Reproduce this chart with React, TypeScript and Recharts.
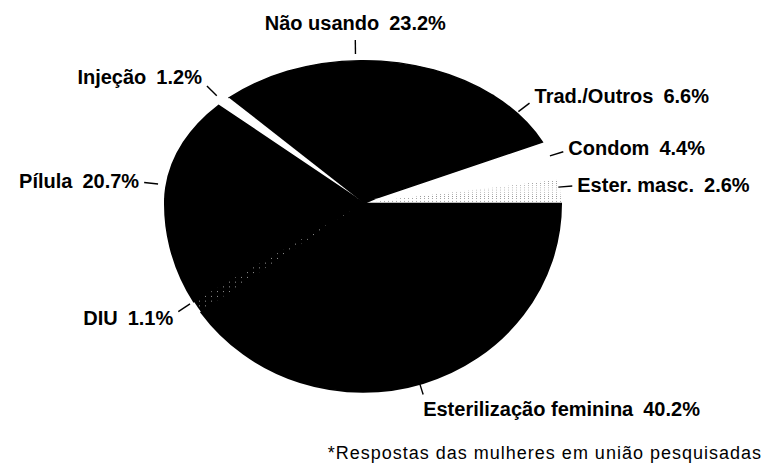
import { PieChart, Pie, Cell } from "recharts"

// methods, counter-clockwise from 3 o'clock
const methods = [
	"Ester. masc.",
	"Condom",
	"Trad./Outros",
	"Não usando",
	"Injeção",
	"Pílula",
	"DIU",
	"Esterilização feminina",
]
const shares = [2.6, 4.4, 6.6, 23.2, 1.2, 20.7, 1.1, 40.2]
const footnote = "*Respostas das mulheres em união pesquisadas"

const sliceFills = [
	"url(#dotsLight)",
	"#ffffff",
	"#000000",
	"#000000",
	"#ffffff",
	"#000000",
	"url(#specks)",
	"#000000",
]

const data = methods.map((name, i) => ({ name, value: shares[i] }))

const W = 771
const H = 469
const CX = 358
const CY = 199
const R = 198
// the scanned pie is seen a little in perspective: top half flatter than bottom
const TOP_K = 0.717
const BOTTOM_K = 0.95
const FONT = "'Liberation Sans', Arial, Helvetica, sans-serif"

function edgePoint(angle: number) {
	const rad = (angle * Math.PI) / 180
	const c = Math.cos(rad)
	const s = Math.sin(rad)
	const k = s > 0 ? TOP_K : BOTTOM_K
	return { c, s, x: CX + R * c, y: CY - R * s * k }
}

function renderLabel(props: any) {
	const { midAngle, index } = props
	const { c, s, x, y } = edgePoint(midAngle)
	const x1 = x + 3 * c
	const y1 = y - 3 * s
	const x2 = x + 17 * c
	const y2 = y - 17 * s
	let tx = x2
	let ty = y2
	let anchor: "start" | "middle" | "end" = "start"
	if (c > 0.35) {
		tx = x2 + 5
		ty = y2 + 7 - 12 * s
	} else if (c < -0.35) {
		anchor = "end"
		tx = x2 - 5
		ty = y2 + 7 - 12 * s
	} else if (s > 0) {
		anchor = "middle"
		ty = y2 - 10
	} else {
		ty = y2 + 22
	}
	return (
		<g key={`lbl-${index}`}>
			<line x1={x1} y1={y1} x2={x2} y2={y2} stroke="#000" strokeWidth={1.4} />
			<text
				x={tx}
				y={ty}
				textAnchor={anchor}
				fontFamily={FONT}
				fontWeight="bold"
				fontSize={20}
				fill="#000"
			>
				{methods[index]}
				<tspan dx={10}>{shares[index].toFixed(1)}%</tspan>
			</text>
		</g>
	)
}

// solid black slices get a matching stroke so no seams show between them
const css = `
.pie-top .recharts-sector { transform-origin: ${CX}px ${CY}px; transform: scaleY(${TOP_K}); clip-path: url(#clipTop); }
.pie-bottom .recharts-sector { transform-origin: ${CX}px ${CY}px; transform: scaleY(${BOTTOM_K}); clip-path: url(#clipBottom); }
.recharts-sector[fill="#000000"] { stroke: #000; stroke-width: 2px; }
.recharts-sector:not([fill="#000000"]) { stroke: none; }
`

export default function App() {
	return (
		<div
			style={{
				position: "absolute",
				left: 0,
				top: 0,
				width: W,
				height: H,
				background: "#fff",
			}}
		>
			<style>{css}</style>
			<svg width={0} height={0} style={{ position: "absolute" }}>
				<defs>
					<pattern id="dotsLight" width={4} height={3} patternUnits="userSpaceOnUse">
						<rect width={4} height={3} fill="#fff" />
						<rect x={0} y={0} width={1} height={1} fill="#999" />
					</pattern>
					<pattern id="specks" width={6} height={5} patternUnits="userSpaceOnUse">
						<rect width={6} height={5} fill="#000" />
						<rect x={1} y={1} width={1} height={1} fill="#999" />
					</pattern>
					<clipPath id="clipTop">
						<rect x={0} y={0} width={W} height={CY + 0.5} />
					</clipPath>
					<clipPath id="clipBottom">
						<rect x={0} y={CY - 0.5} width={W} height={H} />
					</clipPath>
				</defs>
			</svg>
			<PieChart width={W} height={H}>
				<Pie
					className="pie-top"
					data={data}
					dataKey="value"
					nameKey="name"
					cx={CX}
					cy={CY}
					outerRadius={R}
					startAngle={0}
					endAngle={360}
					isAnimationActive={false}
				>
					{data.map((d, i) => (
						<Cell key={`t-${d.name}`} fill={sliceFills[i]} />
					))}
				</Pie>
				<Pie
					className="pie-bottom"
					data={data}
					dataKey="value"
					nameKey="name"
					cx={CX}
					cy={CY}
					outerRadius={R}
					startAngle={0}
					endAngle={360}
					label={renderLabel}
					labelLine={false}
					isAnimationActive={false}
				>
					{data.map((d, i) => (
						<Cell key={`b-${d.name}`} fill={sliceFills[i]} />
					))}
				</Pie>
			</PieChart>
			<svg
				width={W}
				height={H}
				style={{ position: "absolute", left: 0, top: 0, pointerEvents: "none" }}
			>
				<text
					x={762}
					y={459}
					textAnchor="end"
					fontFamily={FONT}
					fontSize={18}
					letterSpacing={1}
					fill="#000"
				>
					{footnote}
				</text>
			</svg>
		</div>
	)
}
